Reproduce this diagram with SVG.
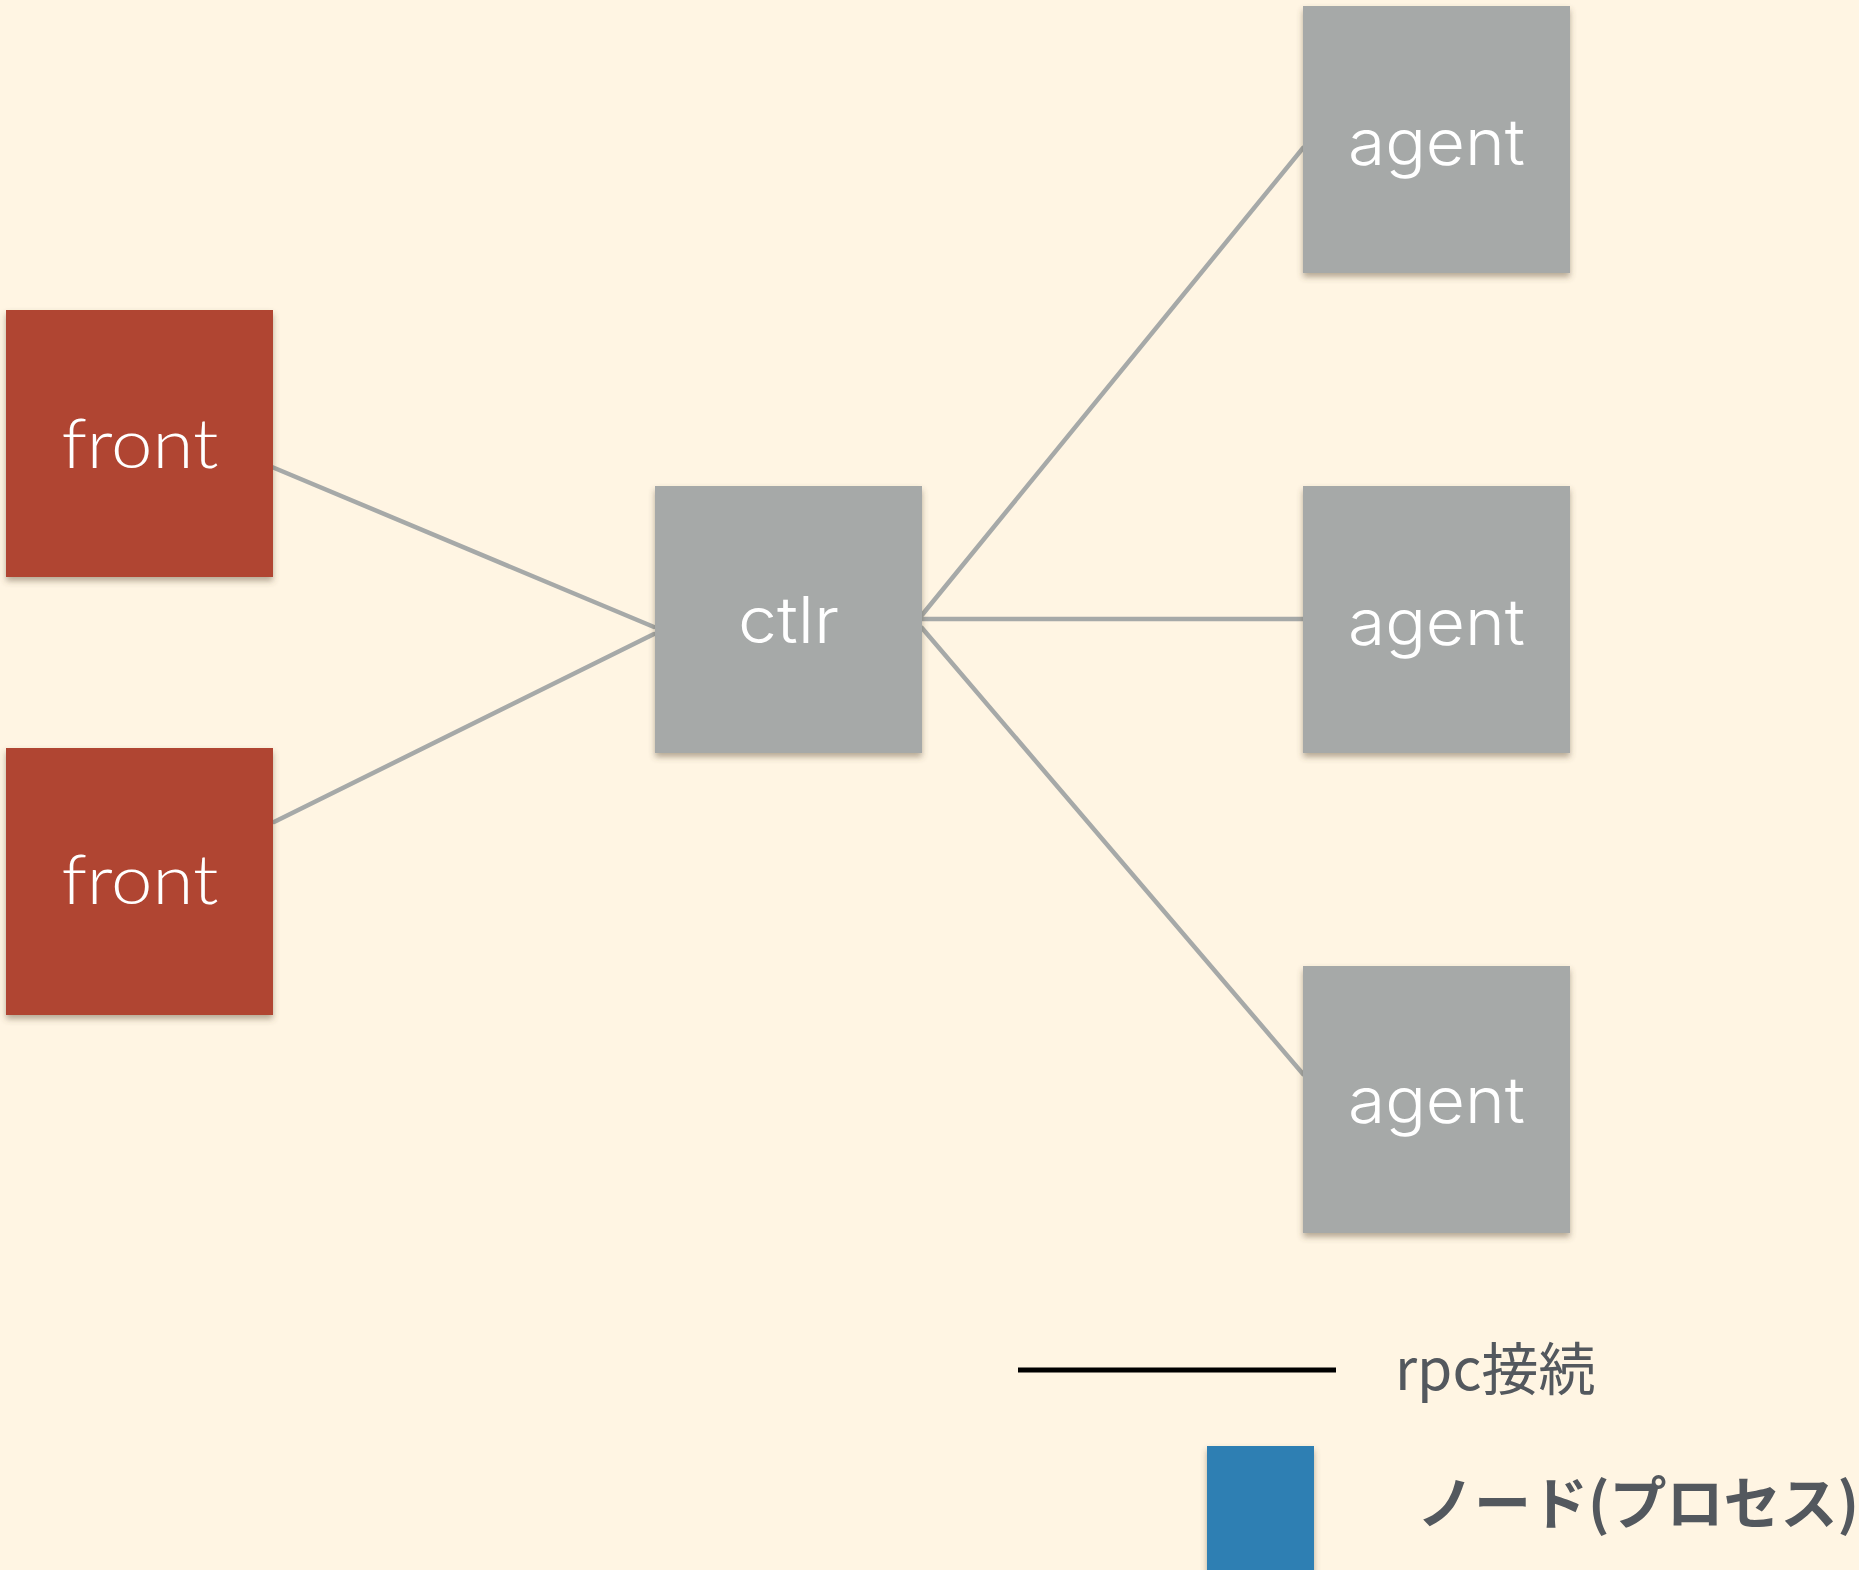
<svg xmlns="http://www.w3.org/2000/svg" width="1859" height="1570" viewBox="0 0 1859 1570">
<defs>
<filter id="sh" x="-10%" y="-10%" width="130%" height="130%">
<feDropShadow dx="0" dy="4" stdDeviation="3" flood-color="#5a4a30" flood-opacity="0.45"/>
</filter>
<style>
.red{fill:#b04533;filter:url(#sh)}
.gray{fill:#a6a9a8;filter:url(#sh)}
.blue{fill:#2f7fb3;filter:url(#sh)}
.lbl{font-family:Lato,"Open Sans","Liberation Sans",sans-serif;font-weight:300;font-size:68px;fill:#ffffff;text-anchor:middle}
.lbl2{font-family:Inter,Roboto,"Liberation Sans",sans-serif;font-weight:300;font-size:64px;fill:#ffffff;text-anchor:middle}
.conn{stroke:#a6a9a8;stroke-width:4.5;fill:none;stroke-linecap:round}
.leg{font-family:"Noto Sans CJK JP","Noto Sans",sans-serif;font-size:57px;fill:#53585e}
</style>
</defs>
<rect width="1859" height="1570" fill="#fff5e3"/>
<g id="connectors">
<line class="conn" x1="272" y1="467" x2="654" y2="627"/>
<line class="conn" x1="274" y1="822" x2="654" y2="634"/>
<line class="conn" x1="922" y1="615" x2="1303" y2="148"/>
<line class="conn" x1="922" y1="619" x2="1303" y2="619"/>
<line class="conn" x1="922" y1="628" x2="1303" y2="1074"/>
</g>
<g id="front1"><rect class="red" x="6" y="310" width="267" height="267"/><text class="lbl" x="140" y="468" textLength="157" lengthAdjust="spacingAndGlyphs">front</text></g>
<g id="front2"><rect class="red" x="6" y="748" width="267" height="267"/><text class="lbl" x="140" y="904" textLength="157" lengthAdjust="spacingAndGlyphs">front</text></g>
<g id="ctlr"><rect class="gray" x="655" y="486" width="267" height="267"/><text class="lbl2" x="788.5" y="643" textLength="101" lengthAdjust="spacingAndGlyphs">ctlr</text></g>
<g id="agent1"><rect class="gray" x="1303" y="6" width="267" height="267"/><text class="lbl2" x="1436.5" y="165" textLength="177" lengthAdjust="spacingAndGlyphs">agent</text></g>
<g id="agent2"><rect class="gray" x="1303" y="486" width="267" height="267"/><text class="lbl2" x="1436.5" y="645" textLength="177" lengthAdjust="spacingAndGlyphs">agent</text></g>
<g id="agent3"><rect class="gray" x="1303" y="966" width="267" height="267"/><text class="lbl2" x="1436.5" y="1123" textLength="177" lengthAdjust="spacingAndGlyphs">agent</text></g>
<g id="legend">
<line x1="1018" y1="1370" x2="1336" y2="1370" stroke="#000" stroke-width="5"/>
<text class="leg" x="1395" y="1390" font-weight="400">rpc接続</text>
<rect class="blue" x="1207" y="1446" width="107" height="130"/>
<text class="leg" x="1417" y="1524" font-weight="700">ノード(プロセス)</text>
</g>
</svg>
